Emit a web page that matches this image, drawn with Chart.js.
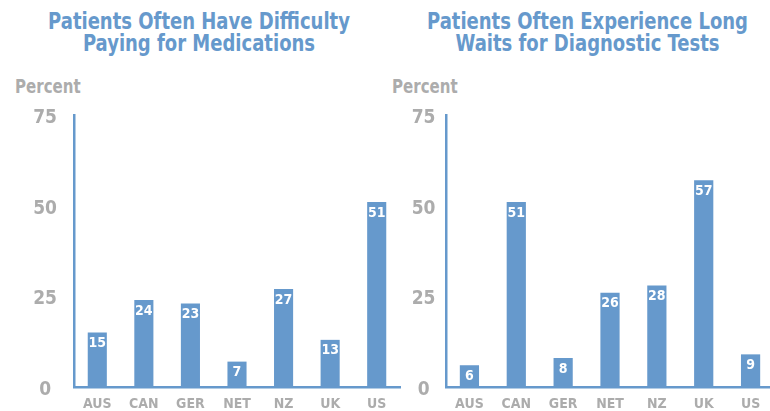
<!DOCTYPE html>
<html>
<head>
<meta charset="utf-8">
<script src="https://cdn.jsdelivr.net/npm/chart.js@4.4.1/dist/chart.umd.min.js"></script>
<style>
  html, body { margin: 0; padding: 0; background: #fff; overflow: hidden; }
  #wrap { position: relative; width: 770px; height: 411px; overflow: hidden; }
  canvas { position: absolute; top: 0; }
  .title {
    position: absolute; top: 11px; text-align: center; white-space: nowrap;
    font: bold 23px "DejaVu Sans Condensed", "DejaVu Sans", sans-serif;
    line-height: 21.5px; color: #6699cc;
    transform: scaleX(0.87); transform-origin: center top;
  }
  .unit {
    position: absolute; top: 75px;
    font: bold 19px "DejaVu Sans Condensed", "DejaVu Sans", sans-serif;
    color: #acacac;
    transform: scaleX(0.88); transform-origin: left top;
  }
</style>
</head>
<body>
<div id="wrap">
  <div class="title" style="left:0; width:398px;">Patients Often Have Difficulty<br>Paying for Medications</div>
  <div class="title" style="left:385px; width:405px;">Patients Often Experience Long<br>Waits for Diagnostic Tests</div>
  <div class="unit" style="left:15px;">Percent</div>
  <div class="unit" style="left:392px;">Percent</div>
  <canvas id="medChart" width="405" height="411" style="left:0"></canvas>
  <canvas id="testChart" width="390" height="411" style="left:385px"></canvas>
</div>
<script>
const FONT = '"DejaVu Sans Condensed", "DejaVu Sans", sans-serif';
const BLUE = "#6699cc";
const GRAY = "#acacac";

// data
const countries = ["AUS", "CAN", "GER", "NET", "NZ", "UK", "US"];
const medicationCost = [15, 24, 23, 7, 27, 13, 51];
const diagnosticWaits = [6, 51, 8, 26, 28, 57, 9];
const yTicks = [0, 25, 50, 75];

// white value labels inside the top of each bar
const valueLabels = {
  id: "valueLabels",
  afterDatasetsDraw(chart) {
    const ctx = chart.ctx;
    const values = chart.data.datasets[0].data;
    ctx.save();
    ctx.font = "bold 14px " + FONT;
    ctx.fillStyle = "#fff";
    ctx.textAlign = "center";
    ctx.textBaseline = "middle";
    chart.getDatasetMeta(0).data.forEach((bar, i) => {
      ctx.fillText(String(values[i]), bar.x, bar.y + 11);
    });
    ctx.restore();
  },
};

const makeChart = (id, values, axisWidth, tickPad, padRight) =>
  new Chart(document.getElementById(id), {
    type: "bar",
    data: {
      labels: countries,
      datasets: [
        {
          data: values,
          backgroundColor: BLUE,
          categoryPercentage: 1,
          barPercentage: 0.41,
        },
      ],
    },
    options: {
      responsive: false,
      animation: false,
      layout: { padding: { top: 115, left: 0, right: padRight, bottom: 0 } },
      plugins: {
        legend: { display: false },
        tooltip: { enabled: false },
      },
      scales: {
        x: {
          grid: { display: false, drawTicks: false },
          border: { color: BLUE, width: 2.5 },
          ticks: {
            color: GRAY,
            font: { family: FONT, size: 14, weight: "bold" },
            padding: 9,
            maxRotation: 0,
            autoSkip: false,
          },
          afterFit: (scale) => { scale.height = 24; },
        },
        y: {
          min: 0,
          max: 75,
          grid: { display: false, drawTicks: false },
          border: { color: BLUE, width: 2.5 },
          afterBuildTicks: (scale) => { scale.ticks = yTicks.map((v) => ({ value: v })); },
          ticks: {
            color: GRAY,
            font: { family: FONT, size: 19, weight: "bold" },
            crossAlign: "center",
            padding: tickPad,
            labelOffset: 3,
          },
          afterFit: (scale) => {
            scale.width = axisWidth;
            scale.paddingTop = 0;
            scale.paddingBottom = 0;
          },
        },
      },
    },
    plugins: [valueLabels],
  });

makeChart("medChart", medicationCost, 74, 17, 5);
makeChart("testChart", diagnosticWaits, 61, 10.5, 1);
</script>
</body>
</html>
